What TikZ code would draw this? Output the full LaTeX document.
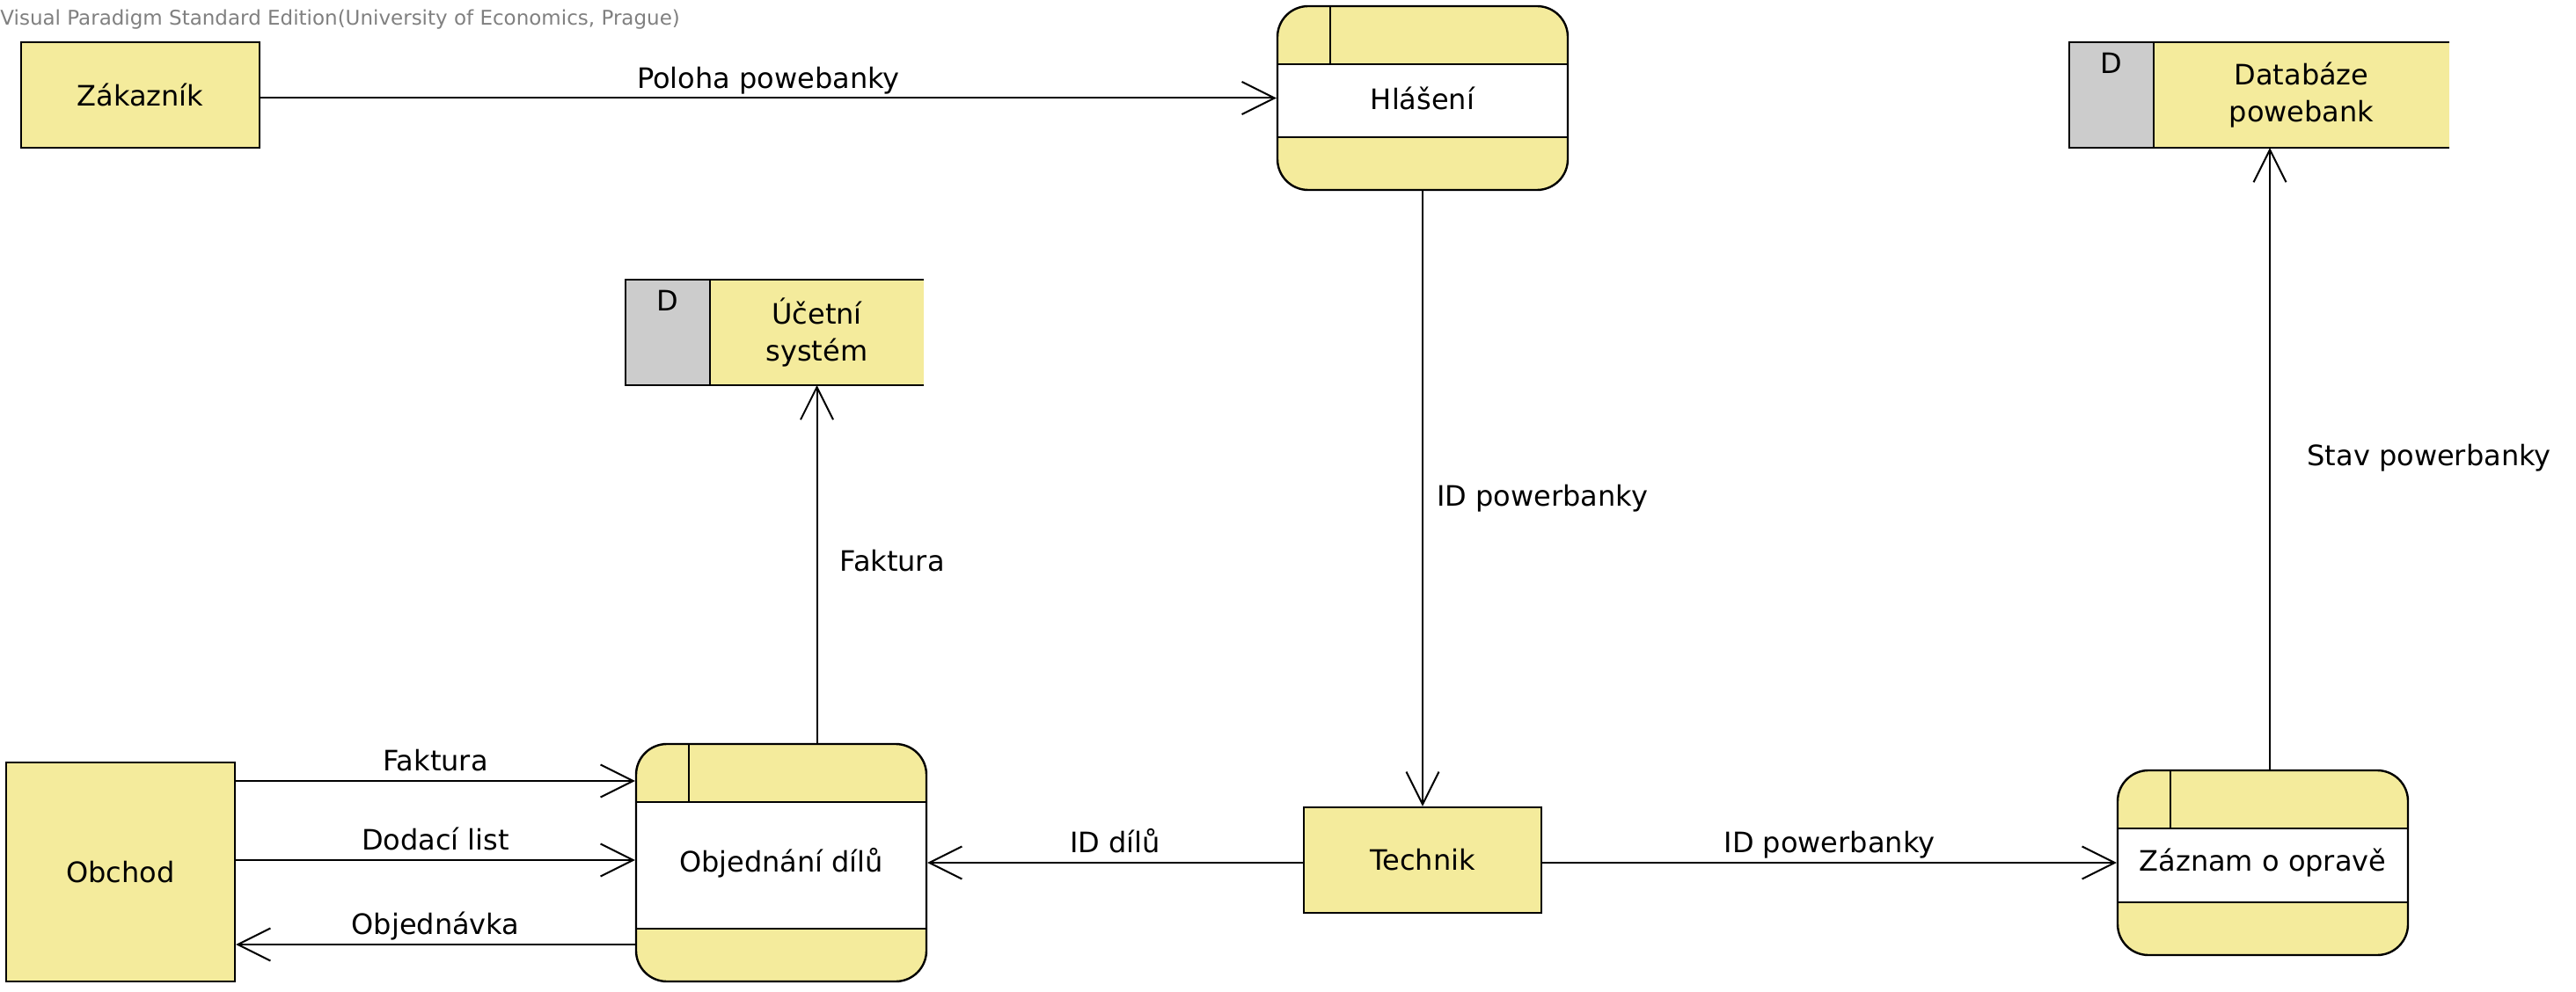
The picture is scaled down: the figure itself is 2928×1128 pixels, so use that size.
\documentclass[tikz,border=0pt]{standalone}
\usepackage{fontspec}
\setmainfont{DejaVu Sans}
\usetikzlibrary{positioning,arrows.meta}
\definecolor{vpyellow}{RGB}{244,235,156}
\definecolor{vpgray}{RGB}{204,204,204}
\definecolor{wmgray}{RGB}{128,128,128}

\begin{document}
\begin{tikzpicture}[x=0.5pt,y=-0.5pt,
    font=\fontsize{16}{21}\selectfont,
    entity/.style={draw,line width=1.2pt,fill=vpyellow,inner sep=0pt},
    proc/.style={draw,line width=1.2pt,fill=vpyellow,rounded corners=17.5pt,
        minimum width=165pt,inner sep=0pt,
        path picture={
            \fill[white,sharp corners] ([yshift=-33pt]path picture bounding box.north west)
                rectangle ([yshift=30pt]path picture bounding box.south east);
            \draw[line width=1.2pt] ([yshift=-33pt]path picture bounding box.north west)
                -- ([yshift=-33pt]path picture bounding box.north east);
            \draw[line width=1.2pt] ([yshift=30pt]path picture bounding box.south west)
                -- ([yshift=30pt]path picture bounding box.south east);
            \draw[line width=1pt] ([xshift=30pt]path picture bounding box.north west)
                -- ([xshift=30pt,yshift=-33pt]path picture bounding box.north west);
        }},
    storetag/.style={fill=vpgray,minimum width=48pt,minimum height=60pt,inner sep=0pt,outer sep=0pt,
        label={[anchor=north,inner sep=0pt,yshift=-6pt]north:D}},
    store/.style={fill=vpyellow,minimum height=60pt,align=center,inner sep=0pt,outer sep=0pt},
    flow/.style={line width=1pt,-{Straight Barb[length=18.5pt,width=18.5pt]}},
    lbl/.style={inner sep=1.5pt,text depth=3.7pt}]

    \useasboundingbox (0,0) rectangle (2928,1128);

    \node[anchor=west,inner sep=0pt,text=wmgray,font=\fontsize{11.5}{14}\selectfont] (wm) at (0,22)
        {Visual Paradigm Standard Edition(University of Economics, Prague)};

    \node[entity,minimum width=135.5pt,minimum height=60pt] (zakaznik) at (159.5,108) {Zákazník};
    \node[entity,minimum width=130pt,minimum height=124.5pt] (obchod) at (137,991.5) {Obchod};
    \node[entity,minimum width=135pt,minimum height=60pt] (technik) at (1617,978) {Technik};

    \node[proc,minimum height=104.5pt] (hlaseni) at (1617,111.5) {Hlášení};
    \node[proc,minimum height=135pt] (objednani) at (888,981) {Objednání dílů};
    \node[proc,minimum height=105pt] (zaznam) at (2572,981) {Záznam o opravě};

    \node[storetag] (ucetni-tag) at (759,378) {};
    \node[store,minimum width=121.5pt,right=0pt of ucetni-tag] (ucetni) {Účetní\\systém};
    \node[storetag] (databaze-tag) at (2400,108) {};
    \node[store,minimum width=168pt,right=0pt of databaze-tag] (databaze) {Databáze\\powebank};

    \foreach \s in {ucetni,databaze}{
        \draw[line width=1.2pt] (\s.north east) -- (\s-tag.north west) -- (\s-tag.south west) -- (\s.south east);
        \draw[line width=1pt] (\s-tag.north east) -- (\s-tag.south east);
    }

    \coordinate (faktura) at ([yshift=46.5pt]objednani.west);
    \coordinate (dodaci) at ([yshift=1.5pt]objednani.west);
    \coordinate (objednavka) at ([yshift=-46.5pt]objednani.west);
    \coordinate (zaznamup) at ([xshift=4pt]zaznam.north);

    \draw[flow] (zakaznik.east |- hlaseni.west) -- node[lbl,above] {Poloha powebanky} (hlaseni.west);
    \draw[flow] (hlaseni.south) -- node[lbl,right=6.1pt] {ID powerbanky} (technik.north);
    \draw[flow] (technik.east |- zaznam.west) -- node[lbl,above] {ID powerbanky} (zaznam.west);
    \draw[flow] (technik.west |- objednani.east) -- node[lbl,above] {ID dílů} (objednani.east);
    \draw[flow] (zaznamup) -- node[lbl,right=19.3pt] {Stav powerbanky} (zaznamup |- databaze.south);
    \draw[flow] (objednani.north -| ucetni.south) -- node[lbl,right=11pt] {Faktura} (ucetni.south);
    \draw[flow] (obchod.east |- faktura) -- node[lbl,above] {Faktura} (faktura);
    \draw[flow] (obchod.east |- dodaci) -- node[lbl,above] {Dodací list} (dodaci);
    \draw[flow] (objednavka) -- node[lbl,above] {Objednávka} (obchod.east |- objednavka);
\end{tikzpicture}
\end{document}
